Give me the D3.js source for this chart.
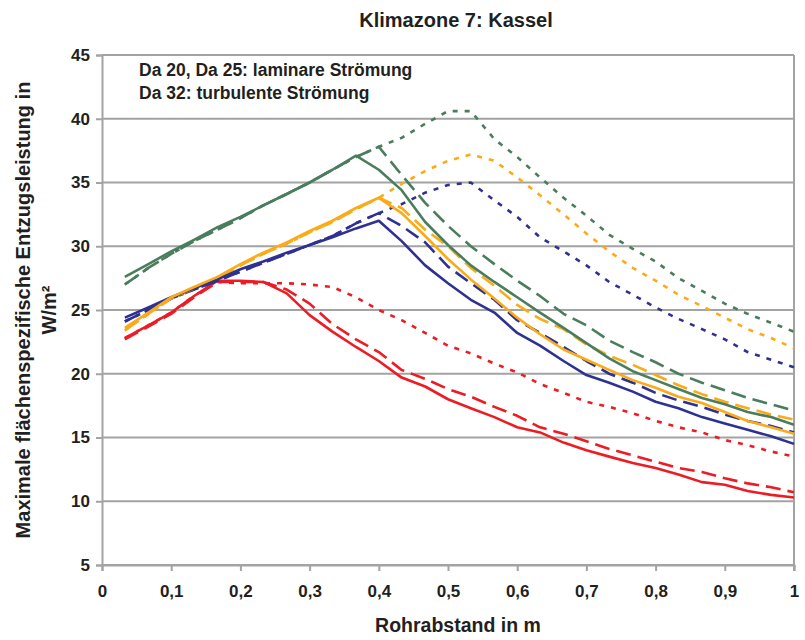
<!DOCTYPE html>
<html>
<head>
<meta charset="utf-8">
<script src="https://cdn.jsdelivr.net/npm/d3@7"></script>
<style>
  html, body { margin: 0; padding: 0; background: #fff; }
  svg { display: block; }
  .narrow { font-family: "Liberation Sans Narrow", "Arial Narrow", "Liberation Sans", Arial, sans-serif; font-weight: bold; }
  .wide { font-family: "Liberation Sans", Arial, sans-serif; font-weight: bold; }
</style>
</head>
<body>
<svg id="chart" width="805" height="640"></svg>
<script>
// Rohrabstand (m)
const spacing = [0.033, 0.067, 0.1, 0.133, 0.167, 0.2, 0.233, 0.267, 0.3, 0.333,
                 0.367, 0.4, 0.433, 0.467, 0.5, 0.533, 0.567, 0.6, 0.633, 0.667,
                 0.7, 0.733, 0.767, 0.8, 0.833, 0.867, 0.9, 0.933, 0.967, 1.0];

// Maximale flächenspezifische Entzugsleistung (W/m²), one array per curve
const redDa20 = [22.8, 23.8, 24.8, 26.1, 27.3, 27.3, 27.2, 26.3, 24.6, 23.3,
                 22.1, 21.0, 19.7, 19.0, 18.0, 17.3, 16.6, 15.8, 15.4, 14.6,
                 14.0, 13.5, 13.0, 12.6, 12.1, 11.5, 11.3, 10.8, 10.5, 10.3];
const redDa25 = [22.7, 23.7, 24.7, 26.0, 27.2, 27.2, 27.2, 26.6, 25.5, 23.9,
                 22.7, 21.7, 20.3, 19.6, 18.8, 18.2, 17.4, 16.7, 15.8, 15.3,
                 14.7, 14.1, 13.6, 13.1, 12.6, 12.3, 11.8, 11.4, 11.1, 10.7];
const redDa32 = [22.8, 23.8, 24.8, 26.1, 27.2, 27.1, 27.1, 27.1, 27.0, 26.8,
                 26.0, 25.0, 24.2, 23.2, 22.2, 21.6, 20.8, 20.1, 19.2, 18.5,
                 17.8, 17.4, 16.9, 16.3, 15.8, 15.4, 14.8, 14.4, 13.9, 13.5];

const blueDa20 = [24.4, 25.2, 26.0, 26.7, 27.4, 28.2, 28.8, 29.5, 30.1, 30.7,
                  31.4, 32.0, 30.4, 28.5, 27.1, 25.8, 24.8, 23.2, 22.2, 21.0,
                  19.9, 19.3, 18.6, 17.8, 17.3, 16.6, 16.1, 15.6, 15.1, 14.5];
const blueDa25 = [24.1, 25.0, 25.9, 26.6, 27.3, 28.0, 28.7, 29.4, 30.1, 30.8,
                  31.8, 32.6, 31.6, 30.3, 28.4, 27.1, 25.8, 24.2, 23.2, 22.1,
                  21.0, 20.0, 19.3, 18.5, 17.9, 17.4, 16.8, 16.3, 15.9, 15.4];
const blueDa32 = [24.1, 25.0, 25.9, 26.6, 27.3, 28.0, 28.7, 29.4, 30.1, 30.8,
                  31.8, 32.6, 33.3, 34.2, 34.8, 35.0, 33.6, 32.3, 30.7, 29.6,
                  28.5, 27.2, 26.2, 25.2, 24.3, 23.5, 22.7, 21.7, 21.1, 20.5];

const orangeDa20 = [23.6, 24.8, 26.0, 26.8, 27.6, 28.6, 29.5, 30.3, 31.2, 32.0,
                    33.0, 33.8, 32.6, 30.8, 29.0, 27.4, 25.9, 24.4, 23.1, 21.9,
                    21.1, 20.3, 19.5, 18.9, 18.2, 17.7, 17.0, 16.3, 15.8, 15.3];
const orangeDa25 = [23.4, 24.7, 25.9, 26.7, 27.5, 28.5, 29.4, 30.2, 31.1, 31.9,
                    32.9, 33.8, 33.0, 31.3, 30.0, 28.3, 26.9, 25.4, 24.3, 23.5,
                    22.3, 21.4, 20.7, 19.9, 19.1, 18.4, 17.8, 17.3, 16.8, 16.4];
const orangeDa32 = [23.4, 24.7, 25.9, 26.7, 27.5, 28.5, 29.4, 30.2, 31.1, 31.9,
                    32.9, 33.8, 34.9, 35.9, 36.7, 37.2, 36.7, 35.4, 34.0, 32.5,
                    31.0, 29.6, 28.3, 27.3, 26.2, 25.3, 24.4, 23.5, 22.8, 22.0];

const greenDa20 = [27.6, 28.6, 29.6, 30.5, 31.5, 32.3, 33.2, 34.1, 35.0, 36.0,
                   37.1, 36.0, 34.4, 31.9, 30.1, 28.5, 27.2, 26.0, 24.8, 23.6,
                   22.4, 21.2, 20.2, 19.5, 18.8, 18.1, 17.6, 17.0, 16.6, 16.0];
const greenDa25 = [27.0, 28.3, 29.4, 30.4, 31.3, 32.2, 33.2, 34.1, 35.0, 36.0,
                   37.0, 37.8, 35.6, 33.4, 31.6, 30.0, 28.6, 27.3, 26.1, 24.7,
                   23.8, 22.6, 21.7, 20.9, 20.0, 19.3, 18.7, 18.1, 17.6, 17.1];
const greenDa32 = [27.0, 28.3, 29.4, 30.4, 31.3, 32.2, 33.2, 34.1, 35.0, 36.0,
                   37.0, 37.8, 38.5, 39.6, 40.6, 40.6, 38.4, 37.0, 35.4, 33.8,
                   32.4, 30.9, 29.8, 28.8, 27.5, 26.5, 25.5, 24.7, 24.0, 23.3];

const yTicks = [5, 10, 15, 20, 25, 30, 35, 40, 45];
const xTicks = [0, 0.1, 0.2, 0.3, 0.4, 0.5, 0.6, 0.7, 0.8, 0.9, 1];

const colors = { red: "#ed1c24", blue: "#2e3192", orange: "#fbab18", green: "#4a7d5c" };
const dashes = { Da20: null, Da25: "15,7", Da32: "5,7" };

const series = [
  { values: redDa20, color: colors.red, dash: dashes.Da20 },
  { values: redDa25, color: colors.red, dash: dashes.Da25 },
  { values: redDa32, color: colors.red, dash: dashes.Da32 },
  { values: blueDa32, color: colors.blue, dash: dashes.Da32 },
  { values: orangeDa32, color: colors.orange, dash: dashes.Da32 },
  { values: greenDa32, color: colors.green, dash: dashes.Da32 },
  { values: blueDa25, color: colors.blue, dash: dashes.Da25 },
  { values: orangeDa25, color: colors.orange, dash: dashes.Da25 },
  { values: greenDa25, color: colors.green, dash: dashes.Da25 },
  { values: blueDa20, color: colors.blue, dash: dashes.Da20 },
  { values: orangeDa20, color: colors.orange, dash: dashes.Da20 },
  { values: greenDa20, color: colors.green, dash: dashes.Da20 }
];

const svg = d3.select("#chart");
const plot = { left: 102, right: 794, top: 55, bottom: 565 };

const x = d3.scaleLinear().domain([0, 1]).range([plot.left, plot.right]);
const y = d3.scaleLinear().domain([5, 45]).range([plot.bottom, plot.top]);

const gridColor = "#a3a3a3";
const ink = "#231f20";

// horizontal grid lines
svg.append("g")
  .selectAll("line")
  .data(yTicks)
  .join("line")
  .attr("x1", plot.left).attr("x2", plot.right)
  .attr("y1", d => y(d)).attr("y2", d => y(d))
  .attr("stroke", gridColor).attr("stroke-width", 2);

// right border of the plot area
svg.append("line")
  .attr("x1", plot.right).attr("x2", plot.right)
  .attr("y1", plot.top).attr("y2", plot.bottom + 6)
  .attr("stroke", gridColor).attr("stroke-width", 2);

// y axis
const yAxis = d3.axisLeft(y).tickValues(yTicks).tickSize(6).tickPadding(6)
  .tickFormat(d3.format("d"));
const gy = svg.append("g").attr("transform", `translate(${plot.left},0)`).call(yAxis);
gy.select(".domain").attr("stroke", gridColor).attr("stroke-width", 2);
gy.selectAll(".tick line").attr("stroke", gridColor).attr("stroke-width", 2);
gy.selectAll(".tick text").attr("class", "narrow").attr("font-size", 17).attr("fill", ink);

// x axis
const fmtX = d => d === 0 ? "0" : d === 1 ? "1" : String(d).replace(".", ",");
const xAxis = d3.axisBottom(x).tickValues(xTicks).tickSize(6).tickPadding(14).tickFormat(fmtX);
const gx = svg.append("g").attr("transform", `translate(0,${plot.bottom})`).call(xAxis);
gx.select(".domain").attr("stroke", gridColor).attr("stroke-width", 2);
gx.selectAll(".tick line").attr("stroke", gridColor).attr("stroke-width", 2);
gx.selectAll(".tick text").attr("class", "narrow").attr("font-size", 17).attr("fill", ink);

// curves
const line = d3.line()
  .x((d, i) => x(spacing[i]))
  .y(d => y(d));

svg.append("g")
  .selectAll("path")
  .data(series)
  .join("path")
  .attr("d", d => line(d.values))
  .attr("fill", "none")
  .attr("stroke", d => d.color)
  .attr("stroke-width", 2.6)
  .attr("stroke-linejoin", "round")
  .attr("stroke-dasharray", d => d.dash);

// title
svg.append("text")
  .attr("class", "narrow")
  .attr("x", 456).attr("y", 27)
  .attr("text-anchor", "middle")
  .attr("font-size", 20)
  .attr("fill", ink)
  .text("Klimazone 7: Kassel");

// flow regime notes
const notes = ["Da 20, Da 25: laminare Strömung", "Da 32: turbulente Strömung"];
svg.append("g")
  .selectAll("text")
  .data(notes)
  .join("text")
  .attr("class", "wide")
  .attr("x", 139)
  .attr("y", (d, i) => 76 + i * 23)
  .attr("font-size", 17.5)
  .attr("fill", ink)
  .text(d => d);

// axis titles
svg.append("text")
  .attr("class", "narrow")
  .attr("x", 458).attr("y", 632)
  .attr("text-anchor", "middle")
  .attr("font-size", 19.5)
  .attr("fill", ink)
  .text("Rohrabstand in m");

const yTitle = svg.append("text")
  .attr("class", "wide")
  .attr("transform", "translate(0,310) rotate(-90)")
  .attr("text-anchor", "middle")
  .attr("font-size", 20)
  .attr("fill", ink);
yTitle.append("tspan").attr("x", 0).attr("y", 30).text("Maximale flächenspezifische Entzugsleistung in");
yTitle.append("tspan").attr("x", 0).attr("y", 56).text("W/m²");
</script>
</body>
</html>
